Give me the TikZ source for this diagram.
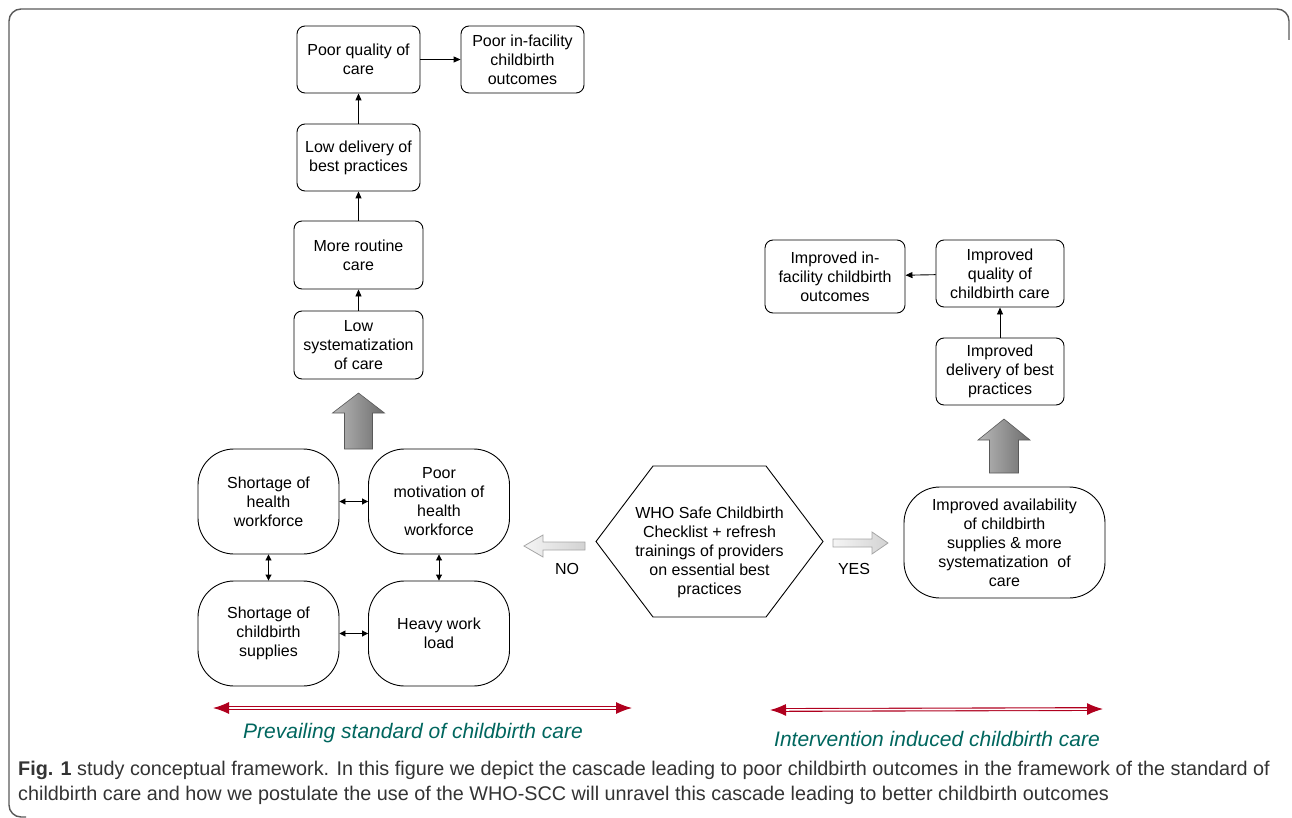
\documentclass[tikz,border=0pt]{standalone}
\usepackage{fontspec}
\setmainfont{Liberation Sans}
\newfontfamily\capfont{Liberation Sans}
\usetikzlibrary{positioning, arrows.meta}

\definecolor{framegray}{HTML}{5A5A5A}
\definecolor{bandred}{HTML}{B0001E}
\definecolor{bandteal}{HTML}{00665E}
\definecolor{capgray}{HTML}{333333}

\tikzset{
  box/.style={draw, rounded corners=8pt, align=center, line width=0.9pt,
    font=\fontsize{16}{19}\selectfont, minimum width=123pt, minimum height=67pt},
  blob/.style={draw, rounded corners=36pt, align=center,
    line width=0.9pt, font=\fontsize{16}{19}\selectfont, minimum width=141pt, minimum height=105pt},
  link/.style={-{Triangle[length=7pt,width=6pt]}, line width=0.9pt},
  twoway/.style={{Triangle[length=6pt,width=6pt]}-{Triangle[length=6pt,width=6pt]}, line width=0.9pt},
  bigarrow/.style={draw=gray!70!black, left color=gray!55, right color=gray!85!black, line width=0.6pt},
  sidearrow/.style={draw=gray!70, left color=gray!8, right color=gray!35, line width=0.8pt},
  band/.style={bandred, double=white, double distance=1.6pt, line width=1.1pt,
    {Latex[length=16pt,width=12pt]}-{Latex[length=16pt,width=12pt]}},
  bandlabel/.style={bandteal, font=\fontsize{21}{25}\selectfont\itshape},
  plain/.style={font=\fontsize{16}{19}\selectfont, align=center},
}

\begin{document}
\begin{tikzpicture}[x=1pt, y=-1pt]
  \useasboundingbox (0,0) rectangle (1292,818);
  \draw[framegray, line width=1.4pt, rounded corners=12pt] (26,817) -- (9,817) -- (9,9) -- (1289,9) -- (1289,40);

  % prevailing care
  \node[box] (pq) at (358.5,59.5) {Poor quality of\\care};
  \node[box] (po) at (522.5,59.5) {Poor in-facility\\childbirth\\outcomes};
  \node[box] (ld) at (358.5,157.5) {Low delivery of\\best practices};
  \node[box, minimum width=129pt, minimum height=68pt] (mr) at (358.5,255) {More routine\\care};
  \node[box, minimum width=129pt, minimum height=68pt] (ls) at (358.5,345) {Low\\systematization\\of care};

  \draw[link] (pq) -- (po);
  \draw[link] (ld) -- (pq);
  \draw[link] (mr) -- (ld);
  \draw[link] (ls) -- (mr);

  \draw[bigarrow] (344.5,449) -- (344.5,413) -- (332.5,413) -- (358.5,393) -- (384.5,413) -- (372.5,413) -- (372.5,449) -- cycle;

  \node[blob] (sh) at (268.5,501.5) {Shortage of\\health\\workforce};
  \node[blob] (pm) at (439,501.5) {Poor\\motivation of\\health\\workforce};
  \node[blob] (sc) at (268.5,633.5) {Shortage of\\childbirth\\supplies};
  \node[blob] (hw) at (439,633.5) {Heavy work\\load};

  \draw[twoway] (sh) -- (pm);
  \draw[twoway] (sh) -- (sc);
  \draw[twoway] (pm) -- (hw);
  \draw[twoway] (sc) -- (hw);

  % checklist
  \coordinate (hexc) at (709.5,541.5);
  \draw[line width=0.9pt] (hexc) ++(-113.5,0) -- ++(57,-75.5) -- ++(113,0) -- ++(57,75.5)
    -- ++(-57,75.5) -- ++(-113,0) -- cycle;
  \node[plain] (who) at (709.5,552) {WHO Safe Childbirth\\Checklist + refresh\\trainings of providers\\on essential best\\practices};

  \draw[sidearrow] (585,542) -- (543,542) -- (543,535) -- (524,546) -- (543,557) -- (543,550) -- (585,550) -- cycle;
  \node[plain] (no) at (567,569) {NO};
  \draw[sidearrow] (833,539) -- (872,539) -- (872,532) -- (888,543) -- (872,554) -- (872,547) -- (833,547) -- cycle;
  \node[plain] (yes) at (854,569) {YES};

  % intervention
  \node[blob, minimum width=201pt, minimum height=111pt] (ia) at (1004.5,542.5) {Improved availability\\of childbirth\\supplies \& more\\systematization\ \ of\\care};
  \draw[bigarrow] (989.5,473) -- (989.5,440) -- (978,440) -- (1004,419) -- (1030,440) -- (1018.5,440) -- (1018.5,473) -- cycle;
  \node[box, minimum width=128pt] (id) at (1000,371.5) {Improved\\delivery of best\\practices};
  \node[box, minimum width=128pt] (iq) at (1000,273.5) {Improved\\quality of\\childbirth care};
  \node[box, minimum width=140pt, minimum height=73pt] (io) at (835,276.5) {Improved in-\\facility childbirth\\outcomes};

  \draw[link] (id) -- (iq);
  \draw[link] (iq) -- (io);

  % bands
  \coordinate (pl) at (213,708);
  \coordinate (pr) at (632,708);
  \draw[band] (pl) -- (pr);
  \node[bandlabel] (prev) at (413,733) {Prevailing standard of childbirth care};
  \coordinate (il) at (770,710);
  \coordinate (ir) at (1103,709);
  \draw[band] (il) -- (ir);
  \node[bandlabel] (interv) at (937,739) {Intervention induced childbirth care};

  % caption
  \node[anchor=base west, inner sep=0pt, capgray, font=\capfont\fontsize{19.8}{24}\selectfont] (cap1) at (18,775)
    {\textbf{Fig. 1} study conceptual framework. In this figure we depict the cascade leading to poor childbirth outcomes in the framework of the standard of};
  \node[anchor=base west, inner sep=0pt, capgray, font=\capfont\fontsize{19.8}{24}\selectfont] (cap2) at (18,800)
    {childbirth care and how we postulate the use of the WHO-SCC will unravel this cascade leading to better childbirth outcomes};
\end{tikzpicture}
\end{document}
